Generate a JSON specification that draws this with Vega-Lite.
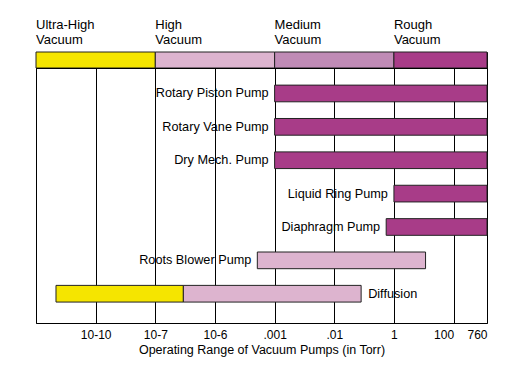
{
  "$schema": "https://vega.github.io/schema/vega-lite/v6.json",
  "padding": {"left": 35, "top": 18, "right": 5, "bottom": 5},
  "background": "white",
  "bounds": "flush",
  "spacing": 0,
  "config": {
    "font": "Liberation Sans",
    "view": {"stroke": "black", "strokeWidth": 1},
    "axis": {"labelFont": "Liberation Sans", "titleFont": "Liberation Sans"}
  },
  "datasets": {
    "zones": [
      {"zone": "Ultra-High", "label": "Ultra-High\nVacuum", "start": 0, "end": 2},
      {"zone": "High", "label": "High\nVacuum", "start": 2, "end": 4},
      {"zone": "Medium", "label": "Medium\nVacuum", "start": 4, "end": 6},
      {"zone": "Rough", "label": "Rough\nVacuum", "start": 6, "end": 7.56}
    ],
    "pumps": [
      {"pump": "Rotary Piston Pump", "zone": "Rough", "start": 4, "end": 7.56},
      {"pump": "Rotary Vane Pump", "zone": "Rough", "start": 4, "end": 7.56},
      {"pump": "Dry Mech. Pump", "zone": "Rough", "start": 4, "end": 7.56},
      {"pump": "Liquid Ring Pump", "zone": "Rough", "start": 6, "end": 7.56},
      {"pump": "Diaphragm Pump", "zone": "Rough", "start": 5.87, "end": 7.56},
      {"pump": "Roots Blower Pump", "zone": "High", "start": 3.71, "end": 6.53},
      {"pump": "Diffusion", "zone": "Ultra-High", "start": 0.335, "end": 2.47},
      {"pump": "Diffusion", "zone": "High", "start": 2.47, "end": 5.45}
    ]
  },
  "vconcat": [
    {
      "width": 451,
      "height": 16,
      "data": {"name": "zones"},
      "layer": [
        {
          "mark": {"type": "rect", "stroke": "#222222", "strokeWidth": 1},
          "encoding": {
            "x": {"field": "start", "type": "quantitative", "scale": {"domain": [0, 7.56], "nice": false, "zero": false}, "axis": null},
            "x2": {"field": "end"},
            "color": {"field": "zone", "type": "nominal", "legend": null,
              "scale": {"domain": ["Ultra-High", "High", "Medium", "Rough"], "range": ["#F5E500", "#DDB4CF", "#C08BB6", "#A83C88"]}}
          }
        },
        {
          "mark": {"type": "text", "align": "left", "baseline": "alphabetic", "dx": 0, "dy": -31, "fontSize": 13, "lineHeight": 14.5, "lineBreak": "\n", "color": "black"},
          "encoding": {
            "x": {"field": "start", "type": "quantitative"},
            "text": {"field": "label"}
          }
        }
      ]
    },
    {
      "width": 451,
      "height": 255,
      "data": {"name": "pumps"},
      "layer": [
        {
          "mark": {"type": "bar", "stroke": "#222222", "strokeWidth": 1},
          "encoding": {
            "y": {"field": "pump", "type": "nominal", "axis": null,
              "sort": ["Rotary Piston Pump", "Rotary Vane Pump", "Dry Mech. Pump", "Liquid Ring Pump", "Diaphragm Pump", "Roots Blower Pump", "Diffusion"],
              "scale": {"paddingInner": 0.5, "paddingOuter": 0.57, "align": 0.45}},
            "x": {"field": "start", "type": "quantitative",
              "scale": {"domain": [0, 7.56], "nice": false, "zero": false},
              "axis": {
                "values": [0, 1, 2, 3, 4, 5, 6, 7, 7.56],
                "labelExpr": "datum.value == 1 ? '10-10' : datum.value == 2 ? '10-7' : datum.value == 3 ? '10-6' : datum.value == 4 ? '.001' : datum.value == 5 ? '.01' : datum.value == 6 ? '1' : datum.value == 7 ? '100' : datum.value > 7.5 ? '760' : ''",
                "labelAlign": {"expr": "datum.value >= 7 ? 'right' : 'center'"},
                "labelFontSize": 12,
                "labelColor": "black",
                "labelPadding": 6,
                "labelFlush": false,
                "labelOverlap": false,
                "ticks": false,
                "domain": false,
                "grid": true,
                "gridColor": "black",
                "gridOpacity": 1,
                "gridWidth": 1,
                "title": "Operating Range of Vacuum Pumps (in Torr)",
                "titleFontSize": 12.5,
                "titleFontWeight": "normal",
                "titleColor": "black",
                "titlePadding": 3
              }},
            "x2": {"field": "end"},
            "color": {"field": "zone", "type": "nominal", "legend": null,
              "scale": {"domain": ["Ultra-High", "High", "Medium", "Rough"], "range": ["#F5E500", "#DDB4CF", "#C08BB6", "#A83C88"]}}
          }
        },
        {
          "transform": [
            {"filter": "datum.pump != 'Diffusion'"}
          ],
          "mark": {"type": "text", "align": "right", "baseline": "middle", "dx": -6, "fontSize": 12.7, "color": "black"},
          "encoding": {
            "y": {"field": "pump", "type": "nominal",
              "sort": ["Rotary Piston Pump", "Rotary Vane Pump", "Dry Mech. Pump", "Liquid Ring Pump", "Diaphragm Pump", "Roots Blower Pump", "Diffusion"]},
            "x": {"field": "start", "type": "quantitative"},
            "text": {"field": "pump"}
          }
        },
        {
          "transform": [
            {"filter": "datum.pump == 'Diffusion'"},
            {"aggregate": [{"op": "max", "field": "end", "as": "end"}], "groupby": ["pump"]}
          ],
          "mark": {"type": "text", "align": "left", "baseline": "middle", "dx": 7, "fontSize": 12.7, "color": "black"},
          "encoding": {
            "y": {"field": "pump", "type": "nominal",
              "sort": ["Rotary Piston Pump", "Rotary Vane Pump", "Dry Mech. Pump", "Liquid Ring Pump", "Diaphragm Pump", "Roots Blower Pump", "Diffusion"]},
            "x": {"field": "end", "type": "quantitative"},
            "text": {"field": "pump"}
          }
        }
      ]
    }
  ]
}
